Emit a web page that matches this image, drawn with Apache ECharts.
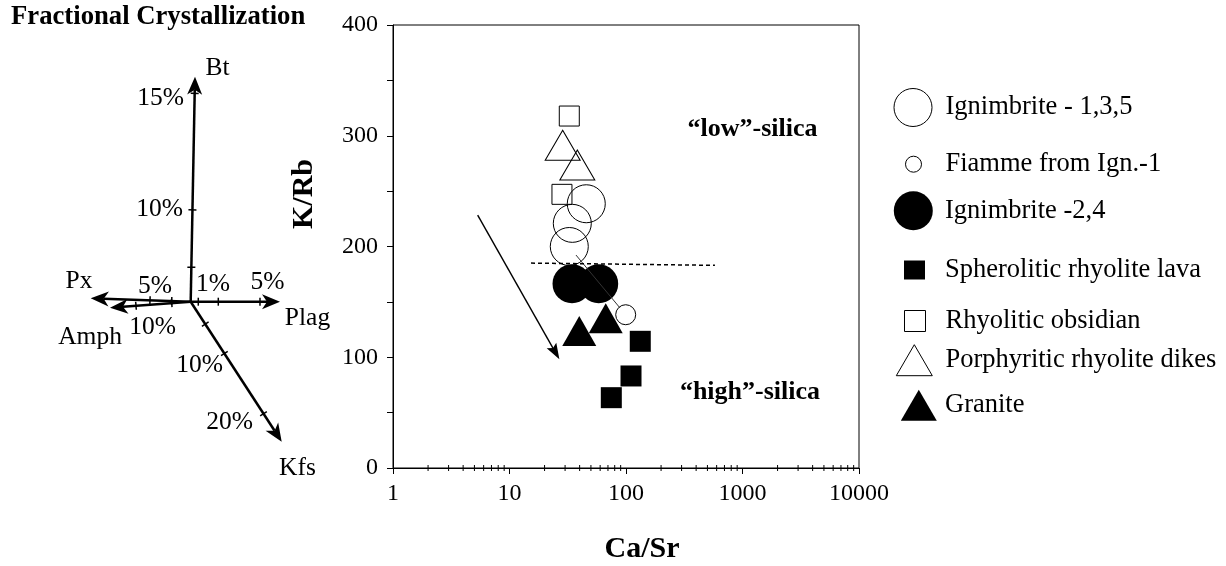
<!DOCTYPE html>
<html>
<head>
<meta charset="utf-8">
<title>K/Rb vs Ca/Sr</title>
<script src="https://cdn.jsdelivr.net/npm/echarts@6/dist/echarts.min.js"></script>
<style>
  html, body { margin: 0; padding: 0; background: #fff; }
  #chart { width: 1226px; height: 566px; }
</style>
</head>
<body>
<div id="chart"></div>
<script>
// values: [Ca/Sr, K/Rb]
const ignimbrite135 = [[45.6, 238.6], [34.6, 220.9], [32.6, 200]];
const fiamme = [[99.4, 138.4]];
const ignimbrite24 = [[34.4, 166.4], [58.3, 166.4]];
const spheroliticLava = [[132.6, 114.4], [110.4, 83.1], [74.8, 63.5]];
const rhyoliticObsidian = [[32.6, 317.8], [28.2, 247.1]];
const porphyriticDikes = [[28.6, 291.4], [38.2, 273.6]];
const granite = [[39.7, 123.7], [67, 135.2]];
const fiammeTieLine = [[37.2, 192.3], [88.8, 144.5]];
const silicaDivide = [[15.3, 185], [580, 183]];
const trendArrow = [[5.33, 228.4, 26.8, 98.1]];

const caSrMinorTicks = [2, 3, 4, 5, 6, 7, 8, 9, 20, 30, 40, 50, 60, 70, 80, 90,
  200, 300, 400, 500, 600, 700, 800, 900, 2000, 3000, 4000, 5000, 6000, 7000, 8000, 9000];

const plotNotes = ['\u201clow\u201d-silica', '\u201chigh\u201d-silica'];
const plotNotePos = [[1219, 306], [1159, 68.6]];

// fractional crystallization vectors (diagram units, origin = start)
const fcTips = [[4.3, 225], [89.3, 0], [-100, 3.4], [-80.7, -6], [91, -140]];
// [vector index, fraction along vector]
const fcTicks = [[0, 0.926], [0, 0.408], [0, 0.153], [1, 0.085], [1, 0.309], [1, 0.776],
  [2, 0.407], [2, 0.19], [3, 0.678], [3, 0.235], [4, 0.16], [4, 0.37], [4, 0.8]];
const fcLabelText = ['Bt', '15%', '10%', 'Px', '5%', '1%', '5%', 'Plag', 'Amph', '10%', '10%', '20%', 'Kfs'];
const fcLabelPos = [[26.8, 233.2], [-30.2, 203.7], [-31.2, 92.7], [-111.7, 20.7], [-35.7, 15.7],
  [22.3, 17.7], [76.8, 19.2], [116.8, -16.3], [-100.7, -35.3], [-38.2, -25.3],
  [8.8, -63.3], [38.8, -120.3], [106.8, -166.3]];

const serif = '"Liberation Serif", "Times New Roman", serif';

function scatter(name, data, symbol, size, filled) {
  return {
    name: name, type: 'scatter', data: data, symbol: symbol, symbolSize: size,
    xAxisIndex: 0, yAxisIndex: 0, silent: true,
    itemStyle: filled ? {color: '#000', opacity: 1}
      : {color: 'rgba(0,0,0,0)', borderColor: '#000', borderWidth: 1, opacity: 1},
    emphasis: {disabled: true}
  };
}

// arrow drawn from p0 to p1 (pixels), tip exactly at p1
function arrowShape(p0, p1, lw, hl, hw, notch) {
  const dx = p1[0] - p0[0], dy = p1[1] - p0[1];
  const len = Math.sqrt(dx * dx + dy * dy);
  const ux = dx / len, uy = dy / len, nx = -uy, ny = ux;
  const bx = p1[0] - ux * hl, by = p1[1] - uy * hl;
  const mx = p1[0] - ux * (hl - notch), my = p1[1] - uy * (hl - notch);
  return {
    type: 'group',
    children: [
      {type: 'line', shape: {x1: p0[0], y1: p0[1], x2: mx, y2: my}, style: {stroke: '#000', lineWidth: lw}},
      {type: 'polygon', shape: {points: [[p1[0], p1[1]], [bx + nx * hw, by + ny * hw], [mx, my], [bx - nx * hw, by - ny * hw]]},
        style: {fill: '#000'}}
    ]
  };
}

// one legend per entry so each icon keeps its own size; dy nudges the text down
function legendAt(name, cx, cy, w, h, dy) {
  return {
    data: [name], left: cx - w / 2, top: cy - h / 2, padding: 0,
    itemWidth: w, itemHeight: h, selectedMode: false,
    itemStyle: {borderWidth: 1},
    textStyle: {fontFamily: serif, fontSize: 26.5, color: '#000',
      padding: [2 * dy, 0, 0, 945 - (cx + w / 2) - 5]}
  };
}

const chart = echarts.init(document.getElementById('chart'));

const option = {
  backgroundColor: '#fff',
  animation: false,
  title: {
    text: 'Fractional Crystallization', left: 11, top: 4, padding: 0,
    textStyle: {fontFamily: serif, fontSize: 26.7, fontWeight: 'bold', color: '#000'}
  },
  legend: [
    legendAt('Ignimbrite - 1,3,5', 912.5, 107, 38, 38, 1),
    legendAt('Fiamme from Ign.-1', 913, 158.7, 16, 16, 0),
    legendAt('Ignimbrite -2,4', 913.3, 210.8, 39, 39, 2),
    legendAt('Spherolitic rhyolite lava', 914.5, 266, 21, 19, 0),
    legendAt('Rhyolitic obsidian', 914.5, 318, 21, 21, 1),
    legendAt('Porphyritic rhyolite dikes', 913.8, 359.7, 36, 31, 5),
    legendAt('Granite', 918.8, 405.3, 36, 31, 5)
  ],
  grid: [
    {left: 393, top: 25, width: 466, height: 443, show: true, borderColor: '#000', borderWidth: 1,
      backgroundColor: 'rgba(0,0,0,0)', containLabel: false, outerBoundsMode: 'none'},
    {left: 40.7, top: 41.7, width: 280, height: 440, containLabel: false, outerBoundsMode: 'none'}
  ],
  xAxis: [
    {
      type: 'log', logBase: 10, min: 1, max: 10000, gridIndex: 0,
      axisLine: {show: true, lineStyle: {color: '#000', width: 1}},
      axisTick: {show: true, length: 6, lineStyle: {color: '#000', width: 1}},
      axisLabel: {fontFamily: serif, fontSize: 24, color: '#000', margin: 14,
        formatter: function (v) { return String(Math.round(v)); }},
      splitLine: {show: false},
      name: 'Ca/Sr', nameLocation: 'middle', nameGap: 66,
      nameTextStyle: {fontFamily: serif, fontSize: 30, fontWeight: 'bold', color: '#000', padding: [0, 0, 0, 32]}
    },
    {type: 'value', gridIndex: 1, min: -150, max: 130, show: false}
  ],
  yAxis: [
    {
      type: 'value', min: 0, max: 400, interval: 50, gridIndex: 0,
      axisLine: {show: true, lineStyle: {color: '#000', width: 1}},
      axisTick: {show: true, length: 6, lineStyle: {color: '#000', width: 1}},
      axisLabel: {fontFamily: serif, fontSize: 24, color: '#000', margin: 15,
        formatter: function (v) { return v % 100 === 0 ? String(v) : ''; }},
      splitLine: {show: false}
    },
    {type: 'value', gridIndex: 1, min: -180, max: 260, show: false}
  ],
  graphic: [
    {type: 'text', x: 304, y: 194, rotation: Math.PI / 2,
      style: {text: 'K/Rb', font: 'bold 30px ' + serif, fill: '#000', align: 'center', verticalAlign: 'middle'}}
  ],
  series: [
    {
      type: 'custom', xAxisIndex: 0, yAxisIndex: 0, silent: true, data: caSrMinorTicks.map(v => [v, 0]),
      renderItem: function (params, api) {
        const p = api.coord([api.value(0), 0]);
        return {type: 'line', shape: {x1: p[0], y1: p[1] - 3, x2: p[0], y2: p[1] + 3}, style: {stroke: '#000', lineWidth: 1}};
      }
    },
    {
      type: 'line', xAxisIndex: 0, yAxisIndex: 0, data: fiammeTieLine, symbol: 'none', silent: true,
      lineStyle: {color: '#333', width: 1}
    },
    {
      type: 'line', xAxisIndex: 0, yAxisIndex: 0, data: silicaDivide, symbol: 'none', silent: true,
      lineStyle: {color: '#000', width: 1.5, type: [4, 3]}
    },
    {
      type: 'custom', xAxisIndex: 0, yAxisIndex: 0, silent: true, data: trendArrow,
      renderItem: function (params, api) {
        const p0 = api.coord([api.value(0), api.value(1)]);
        const p1 = api.coord([api.value(2), api.value(3)]);
        return arrowShape(p0, p1, 1.4, 16, 5.5, 3);
      }
    },
    scatter('Ignimbrite - 1,3,5', ignimbrite135, 'circle', 38, false),
    scatter('Fiamme from Ign.-1', fiamme, 'circle', 20, false),
    scatter('Rhyolitic obsidian', rhyoliticObsidian, 'rect', 20, false),
    scatter('Porphyritic rhyolite dikes', porphyriticDikes, 'triangle', [35, 30], false),
    scatter('Ignimbrite -2,4', ignimbrite24, 'circle', 39, true),
    scatter('Granite', granite, 'triangle', [34, 30], true),
    scatter('Spherolitic rhyolite lava', spheroliticLava, 'rect', 21, true),
    {
      type: 'custom', xAxisIndex: 0, yAxisIndex: 0, silent: true, data: plotNotePos,
      renderItem: function (params, api) {
        const p = api.coord([api.value(0), api.value(1)]);
        return {type: 'text', x: p[0], y: p[1],
          style: {text: plotNotes[params.dataIndex], font: 'bold 26px ' + serif, fill: '#000', align: 'center', verticalAlign: 'middle'}};
      }
    },
    // fractional crystallization diagram
    {
      type: 'custom', xAxisIndex: 1, yAxisIndex: 1, silent: true, data: fcTips,
      renderItem: function (params, api) {
        const p0 = api.coord([0, 0]);
        const p1 = api.coord([api.value(0), api.value(1)]);
        return arrowShape(p0, p1, 2.5, 18, 7.5, 5);
      }
    },
    {
      type: 'custom', xAxisIndex: 1, yAxisIndex: 1, silent: true, data: fcTicks,
      renderItem: function (params, api) {
        const tip = fcTips[api.value(0)];
        const t = api.value(1);
        const p0 = api.coord([0, 0]);
        const p = api.coord([tip[0] * t, tip[1] * t]);
        const q = api.coord(tip);
        const dx = q[0] - p0[0], dy = q[1] - p0[1];
        const len = Math.sqrt(dx * dx + dy * dy);
        const nx = -dy / len, ny = dx / len;
        return {type: 'line', shape: {x1: p[0] - nx * 4, y1: p[1] - ny * 4, x2: p[0] + nx * 4, y2: p[1] + ny * 4},
          style: {stroke: '#000', lineWidth: 1.5}};
      }
    },
    {
      type: 'custom', xAxisIndex: 1, yAxisIndex: 1, silent: true, data: fcLabelPos,
      renderItem: function (params, api) {
        const p = api.coord([api.value(0), api.value(1)]);
        return {type: 'text', x: p[0], y: p[1],
          style: {text: fcLabelText[params.dataIndex], font: '25.5px ' + serif, fill: '#000', align: 'center', verticalAlign: 'middle'}};
      }
    }
  ]
};

chart.setOption(option);
</script>
</body>
</html>
